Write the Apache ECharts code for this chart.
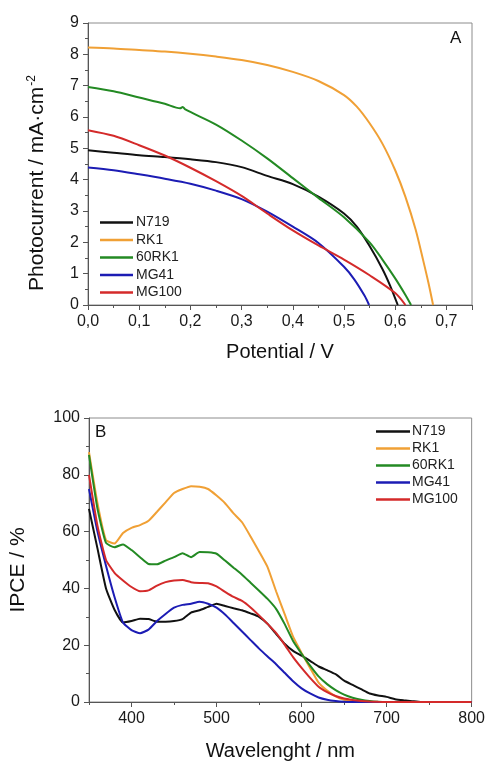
<!DOCTYPE html>
<html>
<head>
<meta charset="utf-8">
<script src="https://cdn.jsdelivr.net/npm/echarts@6/dist/echarts.min.js"></script>
<style>
  html, body { margin: 0; padding: 0; background: #fff; }
  #chart { width: 488px; height: 762px; }
</style>
</head>
<body>
<div id="chart"></div>
<script>
// names of the cells, same order in both panels
var cellNames = ['N719', 'RK1', '60RK1', 'MG41', 'MG100'];
var cellColors = ['#111111', '#f0a035', '#238a23', '#1c1cb4', '#d42a2a'];

// panel A : J-V curves, [potential V, photocurrent mA/cm2]
var jvN719 = [[0, 4.94], [0.05, 4.86], [0.1, 4.78], [0.15, 4.72], [0.2, 4.65], [0.25, 4.56], [0.3, 4.4], [0.35, 4.12], [0.4, 3.86], [0.45, 3.46], [0.5, 2.92], [0.525, 2.5], [0.55, 1.88], [0.575, 1.15], [0.59, 0.62], [0.605, 0]];
var jvRK1 = [[0, 8.22], [0.05, 8.19], [0.1, 8.14], [0.15, 8.09], [0.2, 8.02], [0.25, 7.93], [0.3, 7.82], [0.35, 7.66], [0.4, 7.44], [0.45, 7.15], [0.5, 6.7], [0.525, 6.33], [0.55, 5.8], [0.575, 5.15], [0.6, 4.3], [0.62, 3.45], [0.64, 2.4], [0.655, 1.4], [0.665, 0.7], [0.674, 0]];
var jv60RK1 = [[0, 6.96], [0.05, 6.82], [0.1, 6.62], [0.15, 6.42], [0.18, 6.28], [0.185, 6.32], [0.19, 6.24], [0.25, 5.76], [0.3, 5.25], [0.35, 4.68], [0.4, 4.05], [0.45, 3.42], [0.5, 2.8], [0.55, 2.0], [0.575, 1.45], [0.6, 0.85], [0.62, 0.32], [0.631, 0]];
var jvMG41 = [[0, 4.39], [0.05, 4.3], [0.1, 4.17], [0.15, 4.03], [0.2, 3.87], [0.25, 3.65], [0.3, 3.38], [0.35, 2.98], [0.4, 2.5], [0.45, 1.98], [0.5, 1.22], [0.52, 0.82], [0.54, 0.3], [0.549, 0]];
var jvMG100 = [[0, 5.58], [0.05, 5.4], [0.1, 5.1], [0.15, 4.77], [0.2, 4.38], [0.25, 3.95], [0.3, 3.48], [0.35, 2.92], [0.4, 2.38], [0.45, 1.9], [0.5, 1.45], [0.55, 0.95], [0.6, 0.38], [0.62, 0]];

// panel B : IPCE spectra
var wavelength = [350, 360, 370, 380, 390, 400, 410, 420, 430, 440, 450, 460, 470, 480, 490, 500, 510, 520, 530, 540, 550, 560, 570, 580, 590, 600, 610, 620, 630, 640, 650, 660, 670, 680, 690, 700, 710, 720, 730, 740, 800];
var ipceN719 = [68, 54, 40, 32.5, 28, 28.5, 29.3, 29.2, 28.3, 28.3, 28.5, 29.2, 31.5, 32.3, 33.5, 34.6, 33.8, 33, 32.3, 31.2, 30, 27.5, 24, 20.5, 18, 16.3, 14.5, 12.5, 11.2, 9.8, 7.5, 6, 4.5, 3, 2.3, 1.8, 1, 0.6, 0.3, 0, 0];
var ipceRK1 = [88, 70, 57, 55.8, 59.5, 61.3, 62.3, 63.8, 67, 70.3, 73.6, 75, 76, 75.8, 75, 72.7, 70, 66.4, 63.3, 58.3, 53, 47.5, 39, 31, 23, 17.3, 12, 6.8, 4, 2, 0.8, 0.3, 0.1, 0, 0, 0, 0, 0, 0, 0, 0];
var ipce60RK1 = [87, 68, 56, 54.5, 55.5, 53.5, 51, 48.6, 48.5, 49.8, 51, 52.4, 51, 52.8, 52.7, 52.2, 49.8, 47.3, 44.8, 42, 39.2, 36.3, 32.8, 27.5, 21.5, 17, 12.8, 9, 6.3, 4.2, 2.6, 1.5, 0.8, 0.35, 0.1, 0, 0, 0, 0, 0, 0];
var ipceMG41 = [75, 60, 48, 37, 28, 25.3, 24.2, 25.5, 28.5, 31, 33.2, 34.2, 34.6, 35.3, 34.6, 33.2, 30.8, 27.8, 24.8, 21.8, 18.8, 16, 13.3, 10.3, 7.3, 4.8, 3, 1.6, 0.8, 0.35, 0.1, 0, 0, 0, 0, 0, 0, 0, 0, 0, 0];
var ipceMG100 = [80, 62, 50, 45.5, 42.8, 40.5, 39, 39.3, 41, 42.2, 42.8, 43, 42.2, 41.9, 41.8, 40.7, 38.8, 37, 35.6, 33.3, 30.5, 27.5, 24.3, 20.2, 15.8, 12, 8.5, 5.4, 3.5, 2.1, 1.2, 0.7, 0.35, 0.15, 0.05, 0, 0, 0, 0, 0, 0];

// labelled wavelengths
var wlTicks = [400, 500, 600, 700, 800];

var jvData = [jvN719, jvRK1, jv60RK1, jvMG41, jvMG100];
var ipceData = [ipceN719, ipceRK1, ipce60RK1, ipceMG41, ipceMG100];

var FONT = 'Liberation Sans, Arial, sans-serif';
var axisColor = '#555';

function pairs(xs, ys) {
    var out = [];
    for (var i = 0; i < xs.length; i++) {
        out.push([xs[i], ys[i]]);
    }
    return out;
}

// common look of an axis
function axisBase(extra) {
    var a = {
        type: 'value',
        axisLine: { show: true, onZero: false, lineStyle: { color: axisColor, width: 1 } },
        axisTick: { show: true, inside: false, length: 5, lineStyle: { color: axisColor } },
        minorTick: { show: true, splitNumber: 2, length: 3, lineStyle: { color: axisColor } },
        splitLine: { show: false },
        minorSplitLine: { show: false },
        axisLabel: { color: '#1a1a1a', fontSize: 16, fontFamily: FONT },
        nameTextStyle: { color: '#111', fontSize: 20, fontFamily: FONT }
    };
    for (var k in extra) {
        a[k] = extra[k];
    }
    return a;
}

var series = [];
cellNames.forEach(function (name, i) {
    series.push({
        name: name,
        type: 'line',
        xAxisIndex: 0,
        yAxisIndex: 0,
        data: jvData[i],
        symbol: 'none',
        smooth: 0.3,
        lineStyle: { color: cellColors[i], width: 2 },
        itemStyle: { color: cellColors[i] },
        z: 2
    });
});
cellNames.forEach(function (name, i) {
    series.push({
        name: name,
        type: 'line',
        xAxisIndex: 1,
        yAxisIndex: 1,
        data: pairs(wavelength, ipceData[i]),
        symbol: 'none',
        smooth: 0.15,
        lineStyle: { color: cellColors[i], width: 2 },
        itemStyle: { color: cellColors[i] },
        z: 2
    });
});

var myChart = echarts.init(document.getElementById('chart'));
var option = {
    backgroundColor: '#fff',
    animation: false,
    grid: [
        { left: 88, top: 23, width: 384, height: 282, show: true, borderColor: '#8c8c8c', borderWidth: 1, backgroundColor: 'transparent' },
        { left: 87, top: 418, width: 385, height: 285, show: true, borderColor: '#8c8c8c', borderWidth: 1, backgroundColor: 'transparent' }
    ],
    xAxis: [
        axisBase({
            gridIndex: 0, min: 0, max: 0.75, interval: 0.1,
            name: 'Potential / V', nameLocation: 'middle', nameGap: 37,
            axisLabel: {
                color: '#1a1a1a', fontSize: 16, fontFamily: FONT, margin: 9,
                formatter: function (v) {
                    if (Math.abs(v * 10 - Math.round(v * 10)) > 1e-6) return '';
                    return v.toFixed(1).replace('.', ',');
                }
            }
        }),
        axisBase({
            gridIndex: 1, min: 350, max: 800, interval: 50,
            name: 'Wavelenght / nm', nameLocation: 'middle', nameGap: 39,
            minorTick: { show: false },
            axisTick: { show: true, length: 5, customValues: wlTicks, lineStyle: { color: axisColor } },
            axisLabel: {
                color: '#1a1a1a', fontSize: 16, fontFamily: FONT, margin: 9,
                customValues: wlTicks
            }
        }),
        // short ticks every 50 nm
        {
            type: 'value', gridIndex: 1, min: 350, max: 800, interval: 50, position: 'bottom',
            axisLine: { show: false },
            axisTick: { show: true, length: 3, lineStyle: { color: axisColor } },
            axisLabel: { show: false },
            splitLine: { show: false }
        }
    ],
    yAxis: [
        axisBase({
            gridIndex: 0, min: 0, max: 9, interval: 1,
            name: 'Photocurrent / mA·cm{sup|-2}', nameLocation: 'middle', nameGap: 40,
            nameTextStyle: {
                color: '#111', fontSize: 21, fontFamily: FONT, padding: [0, 0, 0, -38],
                rich: { sup: { fontSize: 12, fontFamily: FONT, color: '#111', verticalAlign: 'top', padding: [0, 0, 10, 1] } }
            },
            axisLabel: { color: '#1a1a1a', fontSize: 16, fontFamily: FONT, margin: 9 }
        }),
        axisBase({
            gridIndex: 1, min: 0, max: 100, interval: 20,
            name: 'IPCE / %', nameLocation: 'middle', nameGap: 60,
            nameTextStyle: { color: '#111', fontSize: 21, fontFamily: FONT, padding: [0, 0, 0, -20] },
            axisLabel: { color: '#1a1a1a', fontSize: 16, fontFamily: FONT, margin: 9 }
        })
    ],
    legend: [
        {
            orient: 'vertical', left: 100, top: 215, padding: 0,
            data: cellNames, icon: 'rect', itemWidth: 33, itemHeight: 2.5, itemGap: 2.5,
            selectedMode: false,
            textStyle: { color: '#222', fontSize: 14, lineHeight: 15, fontFamily: FONT, padding: [0, 0, 0, -2] }
        },
        {
            orient: 'vertical', left: 376, top: 424, padding: 0,
            data: cellNames, icon: 'rect', itemWidth: 34, itemHeight: 2.5, itemGap: 2,
            selectedMode: false,
            textStyle: { color: '#222', fontSize: 14, lineHeight: 15, fontFamily: FONT, padding: [0, 0, 0, -3] }
        }
    ],
    graphic: [
        { type: 'text', left: 450, top: 30, style: { text: 'A', fontSize: 17, fontFamily: FONT, fill: '#111' } },
        { type: 'text', left: 95, top: 424, style: { text: 'B', fontSize: 17, fontFamily: FONT, fill: '#111' } }
    ],
    series: series
};

// 使用刚指定的配置项和数据显示图表。
myChart.setOption(option);
</script>
</body>
</html>
